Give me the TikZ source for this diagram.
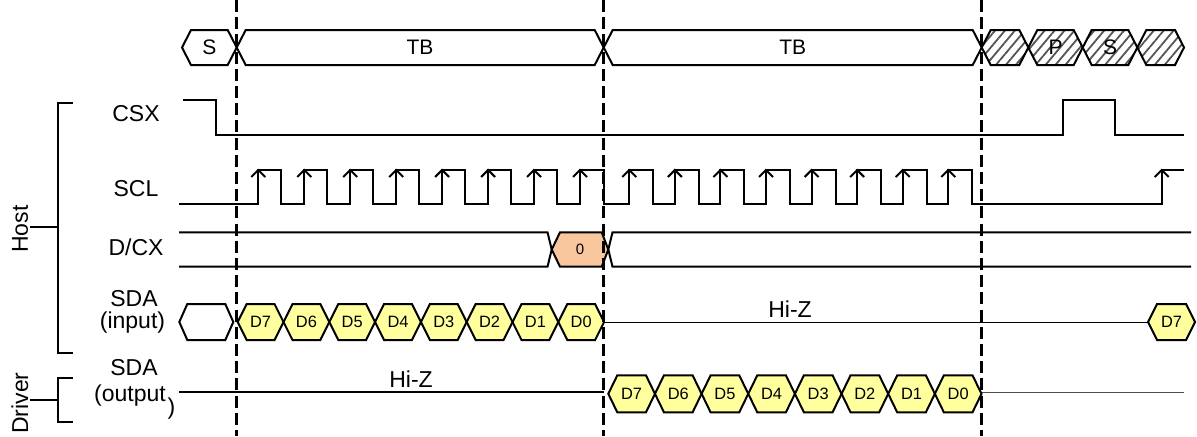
\documentclass[tikz,border=0pt]{standalone}
\usepackage{fontspec}
\setmainfont{Liberation Sans}
\usetikzlibrary{patterns.meta}
\definecolor{datayellow}{RGB}{255,255,158}
\definecolor{cmdorange}{RGB}{249,199,158}
\definecolor{hatchgray}{RGB}{85,85,85}
\tikzset{
  sig/.style={line width=1pt},
  hiz/.style={line width=0.5pt},
  cut/.style={line width=1.7pt, dash pattern=on 6pt off 2.6pt},
  hatch/.style={sig, pattern={Lines[angle=50,distance=3.8pt,line width=0.9pt]}, pattern color=hatchgray},
  databox/.style={sig, fill=datayellow},
  cmdbox/.style={sig, fill=cmdorange},
  lbl/.style={inner sep=0pt, font=\fontsize{11.5}{13}\selectfont},
  buslbl/.style={inner sep=0pt, font=\fontsize{10.5}{12}\selectfont},
  datalbl/.style={inner sep=0pt, font=\fontsize{8.2}{10}\selectfont}
}

\begin{document}
\begin{tikzpicture}[x=0.5pt, y=-0.5pt, line width=1pt]
	\useasboundingbox (0,0) rectangle (1197,436);

	% Top bus
	\foreach \a/\w in {182/54.7, 236.7/367, 603.7/378}
		\draw[sig] (\a,47.5) -- ++(9,-17.5) -- ++(\w-18,0) -- ++(9,17.5) -- ++(-9,17.5) -- ++(-\w+18,0) -- cycle;
	\foreach \a/\w in {981.7/46.6, 1028.3/54.4, 1082.7/54.6, 1137.3/46.7}
		\draw[hatch] (\a,47.5) -- ++(9,-17.5) -- ++(\w-18,0) -- ++(9,17.5) -- ++(-9,17.5) -- ++(-\w+18,0) -- cycle;
	\node[buslbl] (busS) at (209.3,47.5) {S};
	\node[buslbl] (busTBa) at (420,47.5) {TB};
	\node[buslbl] (busTBb) at (792.7,47.5) {TB};
	\node[buslbl] (busP) at (1055.5,47.5) {P};
	\node[buslbl] (busS2) at (1110,47.5) {S};

	% CSX
	\draw[sig] (182.7,100) -- (215.7,100) -- (215.7,135) -- (1062.7,135) -- (1062.7,100) -- (1115,100) -- (1115,135) -- (1184,135);

	% SCL
	\draw[sig] (179.3,203.5)
		\foreach \k in {0,...,6} { -- ({258.3+45.96*\k},203.5) -- ({258.3+45.96*\k},170) -- ({281.3+45.96*\k},170) -- ({281.3+45.96*\k},203.5) }
		-- (580,203.5) -- (580,170) -- (604,170) -- (604,203.5)
		\foreach \k in {0,...,7} { -- ({629.3+45.57*\k},203.5) -- ({629.3+45.57*\k},170) -- ({653.3+45.57*\k},170) -- ({653.3+45.57*\k},203.5) }
		-- (1161.7,203.5) -- (1161.7,170) -- (1184,170);
	%% Edge arrows
	\foreach \k in {0,...,7} {
		\draw[sig] ({251.3+45.96*\k},177) -- ++(7,-7) -- ++(7,7);
		\draw[sig] ({622.3+45.57*\k},177) -- ++(7,-7) -- ++(7,7);
	}
	\draw[sig] (1154.7,177) -- ++(7,-7) -- ++(7,7);

	% D/CX
	\draw[sig] (179,232.3) -- (547.5,232.3) -- (551.7,249.5) -- (547.5,266.7) -- (179,266.7);
	\draw[cmdbox] (551.7,249.5) -- ++(8.3,-17.2) -- ++(41.7,0) -- ++(6.6,17.2) -- ++(-6.6,17.2) -- ++(-41.7,0) -- cycle;
	\draw[sig] (1191,232.3) -- (612.5,232.3) -- (608.3,249.5) -- (612.5,266.7) -- (1191,266.7);
	\node[datalbl, font=\fontsize{7.5}{9}\selectfont] (cmd0) at (580,249.5) {0};

	% SDA (input)
	\draw[sig] (179.3,322) -- ++(8,-18) -- ++(38,0) -- ++(8,18) -- ++(-8,18) -- ++(-38,0) -- cycle;
	\foreach \t [count=\i from 0] in {D7,D6,D5,D4,D3,D2,D1,D0} {
		\draw[databox] ({237.7+45.8*\i},322) -- ++(9,-18) -- ++(27.8,0) -- ++(9,18) -- ++(-9,18) -- ++(-27.8,0) -- cycle;
		\node[datalbl] (in\t) at ({260.6+45.8*\i},322) {\t};
	}
	\draw[hiz] (604,322) -- (1148,322);
	\draw[databox] (1148,322) -- ++(9,-18) -- ++(29,0) -- ++(9,18) -- ++(-9,18) -- ++(-29,0) -- cycle;
	\node[datalbl] (inNext) at (1171.5,322) {D7};
	\node[lbl] (hizIn) at (790,309.5) {Hi-Z};

	% SDA (output)
	\draw[sig] (179.3,392.3) -- (604,392.3);
	\foreach \t [count=\i from 0] in {D7,D6,D5,D4,D3,D2,D1,D0} {
		\draw[databox] ({608.3+46.65*\i},393.8) -- ++(9,-18.5) -- ++(28.65,0) -- ++(9,18.5) -- ++(-9,18.5) -- ++(-28.65,0) -- cycle;
		\node[datalbl] (out\t) at ({631.6+46.65*\i},393.8) {\t};
	}
	\draw[hiz, black!70] (982,392.3) -- (1183.7,392.3);
	\node[lbl] (hizOut) at (411,378.7) {Hi-Z};

	% Cut lines
	\foreach \x in {236.7, 603.7, 981.7}
		\draw[cut] (\x,0) -- (\x,436);

	% Brackets
	\draw[sig] (72.7,102.7) -- (58.3,102.7) -- (58.3,352.7) -- (72.7,352.7);
	\draw[sig] (30,226.7) -- (58.3,226.7);
	\draw[sig] (72.7,377.7) -- (58.3,377.7) -- (58.3,422) -- (72.7,422);
	\draw[sig] (30,400) -- (58.3,400);

	% Nodes
	\node[lbl, rotate=90] (host) at (20,229) {Host};
	\node[lbl, rotate=90] (driver) at (20,403) {Driver};
	\node[lbl] (csx) at (136,114) {CSX};
	\node[lbl] (scl) at (136,189) {SCL};
	\node[lbl] (dcx) at (136,247) {D/CX};
	\node[lbl] (sdaIn) at (134,298.5) {SDA};
	\node[lbl] (sdaInDir) at (132.5,323) {(input)};
	\node[lbl] (sdaOut) at (134,367.5) {SDA};
	\node[lbl] (sdaOutDir) at (130,396) {(output};
	\node[lbl] (sdaOutEnd) at (171.5,408.5) {)};
\end{tikzpicture}
\end{document}
